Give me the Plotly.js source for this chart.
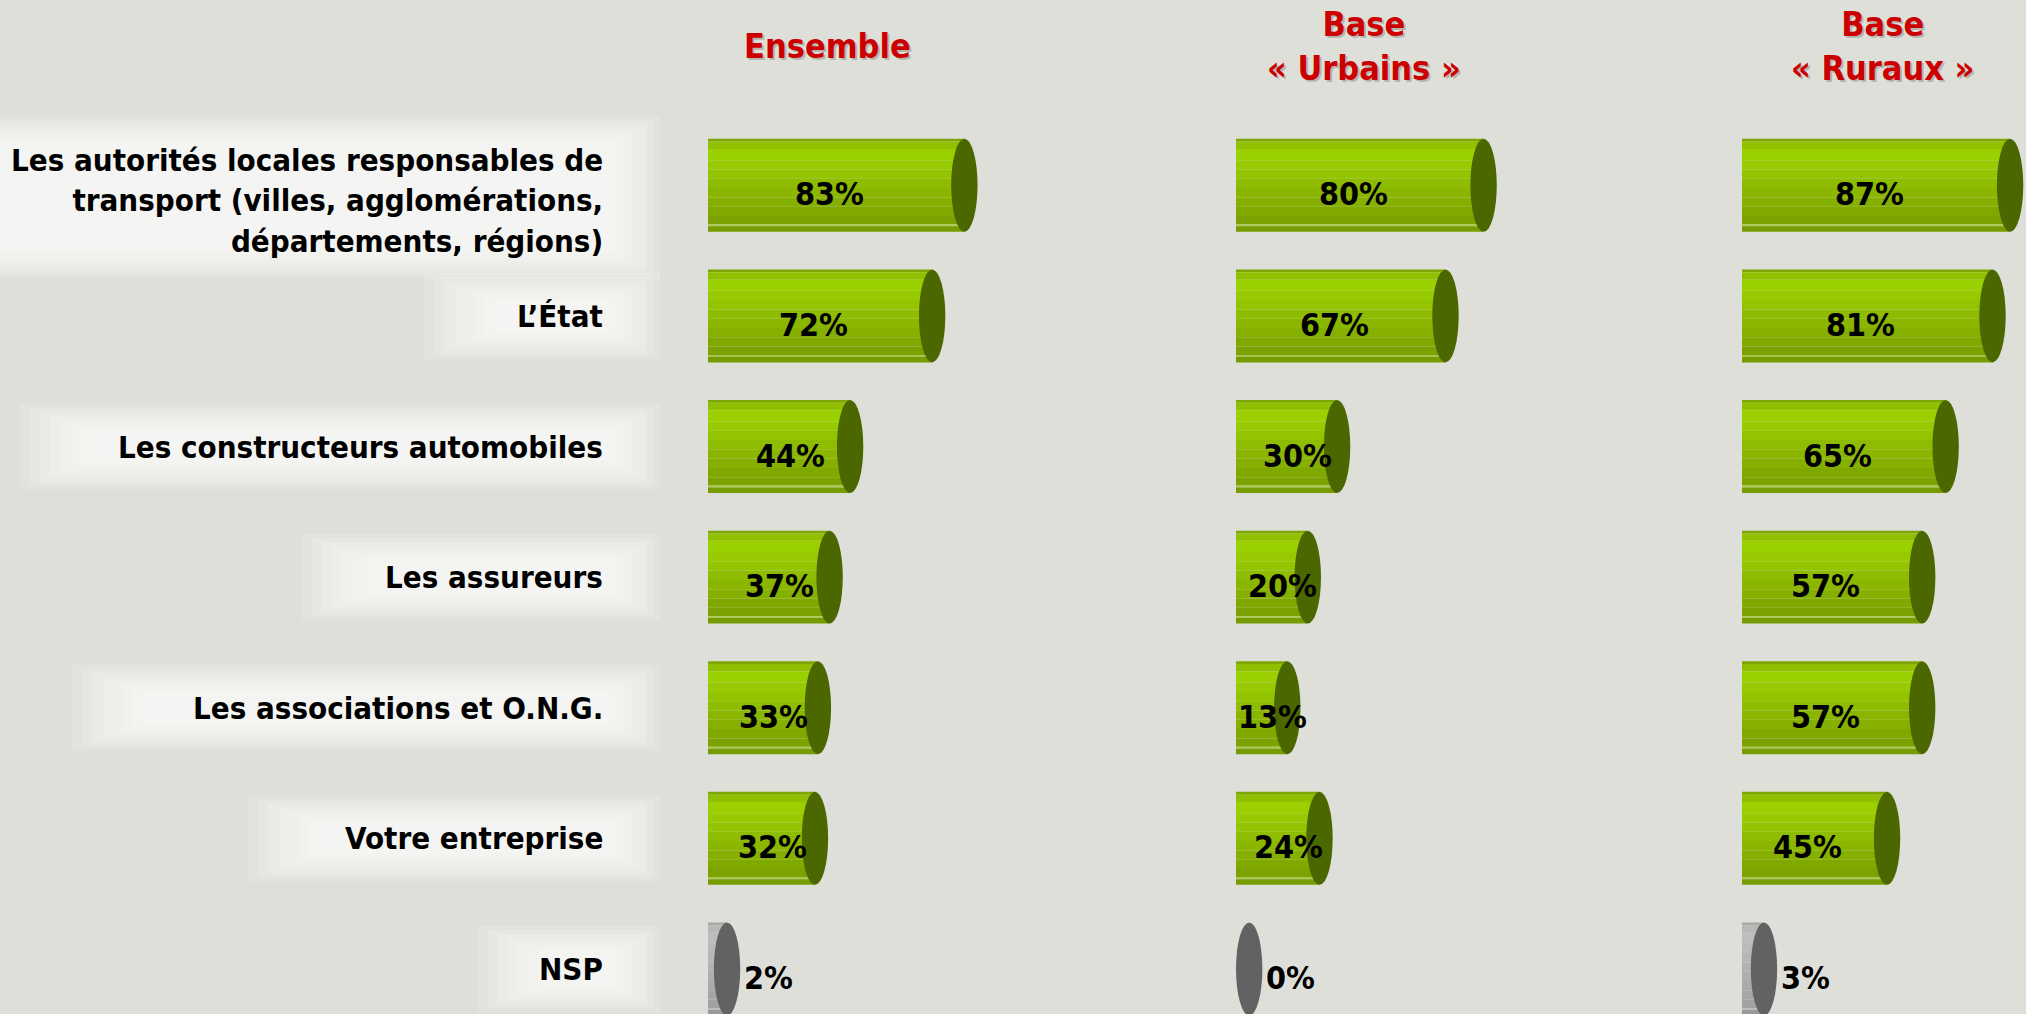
<!DOCTYPE html>
<html lang="fr">
<head>
<meta charset="utf-8">
<script src="https://cdn.plot.ly/plotly-3.0.1.min.js"></script>
<style>
  html, body { margin: 0; padding: 0; background: #dfdfd9; overflow: hidden; }
  #graphique { width: 2026px; height: 1014px; }
</style>
</head>
<body>
<div id="graphique"></div>
<script>
// Qui doit agir ? — trois bases, barres « cylindres » à la manière du tableau d'origine.

const categories = [
  'Les autorités locales responsables de<br>transport (villes, agglomérations,<br>départements, régions)',
  'L’État',
  'Les constructeurs automobiles',
  'Les assureurs',
  'Les associations et O.N.G.',
  'Votre entreprise',
  'NSP'
];
const titres = ['Ensemble', 'Base<br>« Urbains »', 'Base<br>« Ruraux »'];
const valEnsemble = [83, 72, 44, 37, 33, 32, 2];
const valUrbains  = [80, 67, 30, 20, 13, 24, 0];
const valRuraux   = [87, 81, 65, 57, 57, 45, 3];

// ---------- mise en forme ----------
const POLICE = '"DejaVu Sans Condensed", "Liberation Sans Narrow", "DejaVu Sans", sans-serif';
const L = 2026, H = 1014, HAUT = 120;
const Y_MIN = -0.5, Y_MAX = 6.345;           // la dernière ligne est coupée par le bas
const PX_LIGNE = (H - HAUT) / (Y_MAX - Y_MIN);
const EPAISSEUR = 0.712;                     // épaisseur d'un cylindre (unités de catégorie)
const CAPUCHON = 9;                          // largeur de l'ellipse d'extrémité (unités %)
const X_MAX = 284 / 2.93;
const panneauxPx = [[708, 992], [1236, 1520], [1742, 2026]];
const centresTitres = [827, 1364, 1882];
const BORD_ETIQ = 605;

// bandes horizontales du haut vers le bas : poids, vert, gris (NSP)
const bandes = [
  [0.03, '#7da600', '#a9a9a9'],
  [0.08, '#90c000', '#b8b8b8'],
  [0.12, '#9bd000', '#bdbdbd'],
  [0.10, '#97ca00', '#bababa'],
  [0.10, '#93c400', '#b6b6b6'],
  [0.10, '#8ebc00', '#b2b2b2'],
  [0.10, '#8ab600', '#aeaeae'],
  [0.10, '#85b000', '#aaaaaa'],
  [0.10, '#80a900', '#a6a6a6'],
  [0.09, '#7ba200', '#a2a2a2'],
  [0.02, '#a8c850', '#bcbcbc'],
  [0.06, '#769c00', '#9a9a9a']
];
const CAP_VERT = '#4b6700', CAP_GRIS = '#626262';

const series = [valEnsemble, valUrbains, valRuraux];
const traces = [], formes = [], annotations = [];
const layout = {
  width: L, height: H,
  paper_bgcolor: '#dfdfd9', plot_bgcolor: 'rgba(0,0,0,0)',
  margin: { l: 0, r: 0, t: HAUT, b: 0, pad: 0 },
  barmode: 'overlay', showlegend: false,
  font: { family: POLICE, color: '#000' },
  shapes: formes, annotations: annotations,
};

const estNsp = i => categories[i] === 'NSP';
const yPapier = py => (H - py) / (H - HAUT);

// halo blanc flou derrière les libellés (couches superposées)
categories.forEach((cat, i) => {
  const lignes = cat.split('<br>');
  const largeur = Math.max(...lignes.map(l => l.length)) * 17.6;
  const demiH = lignes.length * 19 + 24;
  const cy = HAUT + (i - Y_MIN) * PX_LIGNE + (lignes.length > 1 ? 12 : 0);
  for (let k = 0; k < 8; k++) {
    const gx = 75 - k * 10, gd = 55 - k * 7, gy = demiH - k * 4;
    formes.push({
      type: 'rect', xref: 'paper', yref: 'paper', layer: 'below',
      x0: (BORD_ETIQ - largeur - gx) / L, x1: (BORD_ETIQ + gd) / L,
      y0: yPapier(cy + gy), y1: yPapier(cy - gy),
      fillcolor: '#ffffff', opacity: 0.14, line: { width: 0 },
    });
  }
  annotations.push({
    xref: 'paper', yref: 'y', x: BORD_ETIQ / L, y: cat, xanchor: 'right', align: 'right',
    yshift: lignes.length > 1 ? -15 : 0,
    text: '<b>' + cat + '</b>', showarrow: false, font: { size: 31, family: POLICE, color: '#000' },
  });
});

series.forEach((vals, p) => {
  const s = p === 0 ? '' : String(p + 1);
  layout['xaxis' + s] = {
    domain: [panneauxPx[p][0] / L, panneauxPx[p][1] / L], range: [0, X_MAX],
    visible: false, fixedrange: true, anchor: 'y' + s,
  };
  layout['yaxis' + s] = {
    domain: [0, 1], type: 'category', categoryarray: categories, range: [Y_MAX, Y_MIN],
    visible: false, fixedrange: true, anchor: 'x' + s,
  };

  // corps du cylindre : va jusqu'au centre de l'ellipse
  const corps = vals.map(v => v > 0 ? v + CAPUCHON / 2 : 0);
  let cumul = -EPAISSEUR / 2;
  bandes.forEach(([poids, vert, gris]) => {
    traces.push({
      type: 'bar', orientation: 'h', x: corps, y: categories, base: 0,
      offset: cumul, width: poids * EPAISSEUR,
      xaxis: 'x' + s, yaxis: 'y' + s,
      marker: { color: categories.map((_, i) => estNsp(i) ? gris : vert), line: { width: 0 } },
      hoverinfo: 'skip',
    });
    cumul += poids * EPAISSEUR;
  });

  vals.forEach((v, i) => {
    formes.push({
      type: 'circle', xref: 'x' + s, yref: 'y' + s, layer: 'above',
      x0: v, x1: v + CAPUCHON, y0: i - EPAISSEUR / 2, y1: i + EPAISSEUR / 2,
      fillcolor: estNsp(i) ? CAP_GRIS : CAP_VERT, line: { width: 0 },
    });
    const dehors = v < 10;
    annotations.push({
      xref: 'x' + s, yref: 'y' + s, y: categories[i],
      x: dehors ? v + CAPUCHON : (v >= 45 ? v / 2 : (v + 12) / 2),
      xanchor: dehors ? 'left' : 'center', xshift: dehors ? 2 : 0, yshift: -9,
      text: '<b>' + v + '%</b>', showarrow: false, font: { size: 32, family: POLICE, color: '#000' },
    });
  });

  // titre de colonne, avec ombre
  const yTitre = yPapier(46);
  [['rgba(0,0,0,0.2)', 2, -2], ['#cc0000', 0, 0]].forEach(([couleur, dx, dy]) => {
    annotations.push({
      xref: 'paper', yref: 'paper', x: centresTitres[p] / L, y: yTitre,
      xanchor: 'center', yanchor: 'middle', align: 'center', xshift: dx, yshift: dy,
      text: '<b>' + titres[p] + '</b>', showarrow: false,
      font: { size: 34, family: POLICE, color: couleur },
    });
  });
});

Plotly.newPlot('graphique', traces, layout, { displayModeBar: false, staticPlot: true });
</script>
</body>
</html>
